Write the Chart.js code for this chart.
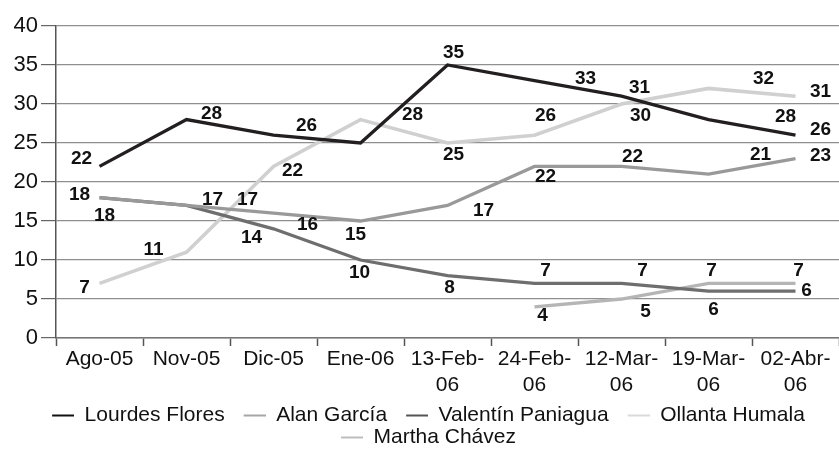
<!DOCTYPE html>
<html>
<head>
<meta charset="utf-8">
<script src="https://cdn.jsdelivr.net/npm/chart.js@4"></script>
<style>
  html, body { margin: 0; padding: 0; background: #fff; overflow: hidden; }
  #wrap { width: 839px; height: 450px; position: relative; }
</style>
</head>
<body>
<div id="wrap"><canvas id="chart"></canvas></div>
<script>
const categories = [['Ago-05'], ['Nov-05'], ['Dic-05'], ['Ene-06'], ['13-Feb-', '06'], ['24-Feb-', '06'], ['12-Mar-', '06'], ['19-Mar-', '06'], ['02-Abr-', '06']];

const lourdes  = [22, 28, 26, 25, 35, 33, 31, 28, 26];
const alan     = [18, 17, 16, 15, 17, 22, 22, 21, 23];
const paniagua = [18, 17, 14, 10, 8, 7, 7, 6, 6];
const humala   = [7, 11, 22, 28, 25, 26, 30, 32, 31];
const martha   = [null, null, null, null, null, 4, 5, 7, 7];

const yTicks = [0, 5, 10, 15, 20, 25, 30, 35, 40];

// where each value label sits, relative to its point (Excel placed them by hand)
const lourdesLbl  = [[-18,-8],[25,-6],[33,-9],null,[6,-12],[51,-2],[18,-8],[77,-3],[25,-5]];
const alanLbl     = [[-20,-3],[61,-6],[34,12],[-5,14],[36,5],[11,10],[11,-10],[52,-19],[25,-3]];
const paniaguaLbl = [[5,18],[26,-6],[-22,9],[-1,13],[2,12],[11,-13],[21,-13],[5,19],[11,0]];
const humalaLbl   = [[-15,4],[-33,-2],[19,4],[52,-5],[6,12],[11,-19],[19,12],[55,-10],[25,-4]];
const marthaLbl   = [null,null,null,null,null,[8,9],[24,13],[3,-13],[3,-13]];

const FONT = '"Liberation Sans", Arial, sans-serif';

// legend marker: short line with a gap in front of it
function legendMark(color) {
  const c = document.createElement('canvas');
  c.width = 40; c.height = 4;
  const g = c.getContext('2d');
  g.fillStyle = color;
  g.fillRect(18, 1, 22, 2);
  return c;
}

const valueLabels = {
  id: 'valueLabels',
  afterDatasetsDraw(chart) {
    const ctx = chart.ctx;
    ctx.save();
    ctx.font = 'bold 19px ' + FONT;
    ctx.fillStyle = '#111';
    ctx.textAlign = 'center';
    ctx.textBaseline = 'middle';
    chart.data.datasets.forEach((ds, i) => {
      const meta = chart.getDatasetMeta(i);
      meta.data.forEach((pt, j) => {
        const v = ds.data[j];
        const off = ds.labelOffsets[j];
        if (v == null || !off) return;
        ctx.fillText(String(v), pt.x + off[0], pt.y + off[1]);
      });
    });
    ctx.restore();
  }
};

function series(label, data, color, legendColor, width, offsets) {
  return {
    label, data,
    borderColor: color,
    backgroundColor: color,
    borderWidth: width,
    pointRadius: 0,
    tension: 0,
    fill: false,
    legendColor,
    labelOffsets: offsets
  };
}

new Chart(document.getElementById('chart'), {
  type: 'line',
  data: {
    labels: categories,
    datasets: [
      series('Lourdes Flores', lourdes, '#231f20', '#111', 3.3, lourdesLbl),
      series('Alan García', alan, '#999999', '#a6a6a6', 3.3, alanLbl),
      series('Valentín Paniagua', paniagua, '#6e6e6e', '#555', 3.3, paniaguaLbl),
      series('Ollanta Humala', humala, '#d0d0d0', '#dadada', 3.6, humalaLbl),
      series('Martha Chávez', martha, '#b5b5b5', '#bdbdbd', 3.3, marthaLbl)
    ]
  },
  options: {
    responsive: true,
    maintainAspectRatio: false,
    animation: false,
    layout: { padding: { top: 26, left: 0, right: 0, bottom: -8 } },
    plugins: {
      tooltip: { enabled: false },
      legend: {
        position: 'bottom',
        labels: {
          usePointStyle: true,
          pointStyleWidth: 40,
          padding: 1,
          color: '#111',
          font: { family: FONT, size: 21 },
          generateLabels(chart) {
            const items = Chart.defaults.plugins.legend.labels.generateLabels(chart);
            items.forEach(it => {
              it.pointStyle = legendMark(chart.data.datasets[it.datasetIndex].legendColor);
            });
            return items;
          }
        }
      }
    },
    scales: {
      x: {
        offset: true,
        afterFit(scale) { scale.height = 66; },
        border: { color: '#777', width: 1.5 },
        grid: {
          offset: true,
          drawOnChartArea: false,
          drawTicks: true,
          tickLength: 8,
          tickColor: '#555',
          tickWidth: 1.5
        },
        ticks: {
          autoSkip: false,
          maxRotation: 0,
          padding: 0,
          color: '#111',
          font: { family: FONT, size: 21, lineHeight: 1.25 }
        }
      },
      y: {
        min: 0,
        max: 40,
        afterFit(scale) { scale.width = 56; },
        afterBuildTicks(scale) { scale.ticks = yTicks.map(v => ({ value: v })); },
        border: { color: '#555', width: 1.5 },
        grid: {
          color: '#8f8f8f',
          lineWidth: 1.2,
          tickLength: 15,
          tickColor: '#666'
        },
        ticks: {
          padding: 3,
          color: '#111',
          font: { family: FONT, size: 22 }
        }
      }
    }
  },
  plugins: [valueLabels]
});
</script>
</body>
</html>
